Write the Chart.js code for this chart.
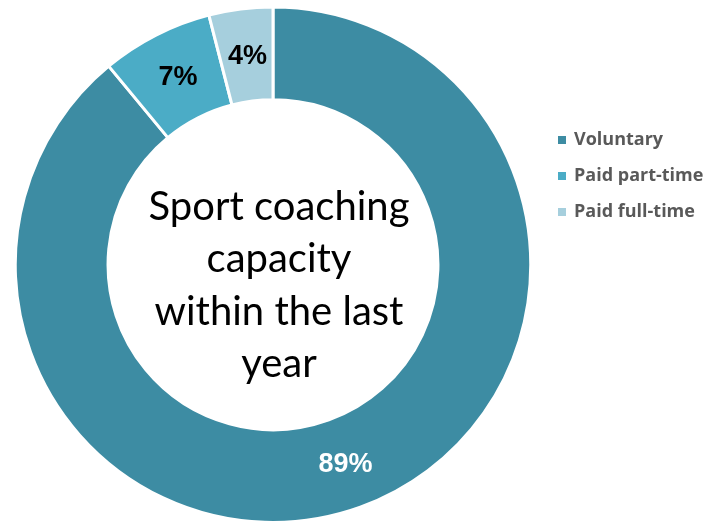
<!DOCTYPE html>
<html><head><meta charset="utf-8">
<script src="https://cdn.jsdelivr.net/npm/chart.js@4.4.0/dist/chart.umd.min.js"></script>
<style>html,body{margin:0;padding:0;background:#fff;}canvas{display:block;}</style>
</head><body>
<canvas id="c" width="708" height="524"></canvas>
<script>
const categories = ["Voluntary", "Paid part-time", "Paid full-time"];
const values = [89, 7, 4];
const labelsText = ["89%", "7%", "4%"];
const colors = ["#3D8CA3", "#4BACC6", "#A6CFDD"];
const labelColors = ["#FFFFFF", "#000000", "#000000"];
const centerLines = ["Sport coaching", "capacity", "within the last", "year"];

const centerPlugin = {
  id: 'centerText',
  afterDatasetsDraw(chart) {
    const ctx = chart.ctx;
    const meta = chart.getDatasetMeta(0);
    const arc0 = meta.data[0];
    const cx = arc0.x, cy = arc0.y;
    ctx.save();
    ctx.fillStyle = '#000';
    ctx.textAlign = 'center';
    ctx.textBaseline = 'middle';
    ctx.font = '40px Lato';
    const lh = 52.5;
    const start = cy - 58;
    centerLines.forEach((t, i) => ctx.fillText(t, cx + 6, start + i * lh));
    // data labels
    ctx.font = 'bold 27px "Liberation Sans", Arial';
    meta.data.forEach((arc, i) => {
      const p = arc.tooltipPosition();
      ctx.fillStyle = labelColors[i];
      ctx.fillText(labelsText[i], p.x + 1, p.y + 1);
    });
    // legend
    ctx.textAlign = 'left';
    ctx.font = 'bold 18px "Open Sans"';
    const ly = [140, 176, 212];
    categories.forEach((c, i) => {
      ctx.fillStyle = colors[i];
      ctx.fillRect(558, ly[i] - 4, 8, 8);
      ctx.fillStyle = '#595959';
      ctx.fillText(c, 574, ly[i]);
    });
    ctx.restore();
  }
};

new Chart(document.getElementById('c'), {
  type: 'doughnut',
  data: {
    labels: categories,
    datasets: [{
      data: values,
      backgroundColor: colors,
      borderColor: '#FFFFFF',
      borderWidth: 3,
      cutout: '64%'
    }]
  },
  options: {
    responsive: false,
    animation: false,
    layout: { padding: { left: 11.5, right: 173.5, top: 5.5, bottom: -4.5 } },
    plugins: { legend: { display: false }, tooltip: { enabled: false } }
  },
  plugins: [centerPlugin]
});
</script>
</body></html>
